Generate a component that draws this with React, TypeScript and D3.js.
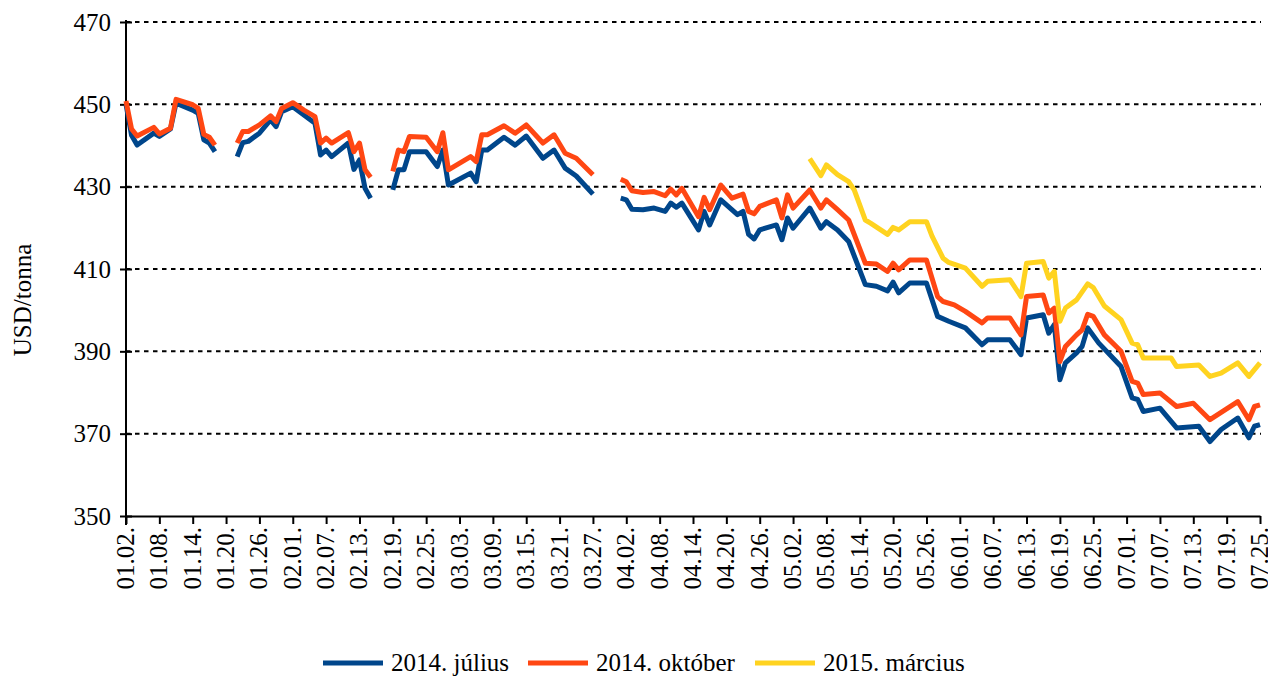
import React, { useEffect, useRef } from "react";
import * as d3 from "d3";

type Pt = [string, number | null];

const seriesNames = ["2014. július", "2014. október", "2015. március"];
const seriesColors = ["#00468b", "#ff4713", "#ffd320"];

const yTicks = [350, 370, 390, 410, 430, 450, 470];
const gridValues = [370, 390, 410, 430, 450, 470];

const tickLabels = [
  "01.02.", "01.08.", "01.14.", "01.20.", "01.26.", "02.01.", "02.07.", "02.13.", "02.19.",
  "02.25.", "03.03.", "03.09.", "03.15.", "03.21.", "03.27.", "04.02.", "04.08.", "04.14.",
  "04.20.", "04.26.", "05.02.", "05.08.", "05.14.", "05.20.", "05.26.", "06.01.", "06.07.",
  "06.13.", "06.19.", "06.25.", "07.01.", "07.07.", "07.13.", "07.19.", "07.25.",
];

const julius: Pt[] = [
  ["01.02", 450], ["01.03", 442.5], ["01.04", 440.1], ["01.07", 443], ["01.08", 442.2],
  ["01.10", 444], ["01.11", 450.3], ["01.14", 448.6], ["01.15", 447.8], ["01.16", 441.4],
  ["01.17", 440.6], ["01.18", 438.5], ["01.20", null],
  ["01.22", 437.3], ["01.23", 440.7], ["01.24", 441], ["01.26", 443], ["01.28", 446.2],
  ["01.29", 444.6], ["01.30", 448.2], ["02.01", 449.4], ["02.03", 447.4], ["02.05", 445.4],
  ["02.06", 437.7], ["02.07", 438.9], ["02.08", 437.3], ["02.11", 440.6], ["02.12", 434.2],
  ["02.13", 436.5], ["02.14", 429.6], ["02.15", 427.2], ["02.17", null],
  ["02.19", 429.2], ["02.20", 434.1], ["02.21", 434.1], ["02.22", 438.5], ["02.25", 438.5],
  ["02.27", 434.9], ["02.28", 438.9], ["03.01", 430.4], ["03.05", 433.3], ["03.06", 431.2],
  ["03.07", 438.9], ["03.08", 438.9], ["03.11", 442], ["03.13", 440.1], ["03.15", 442.3],
  ["03.18", 436.9], ["03.20", 438.9], ["03.22", 434.5], ["03.24", 432.6], ["03.27", 428.2],
  ["03.31", null],
  ["04.01", 427.2], ["04.02", 426.8], ["04.03", 424.5], ["04.05", 424.4], ["04.07", 424.8],
  ["04.09", 424], ["04.10", 426], ["04.11", 425], ["04.12", 426], ["04.15", 419.5],
  ["04.16", 424], ["04.17", 420.7], ["04.19", 426.8], ["04.22", 423.2], ["04.23", 424],
  ["04.24", 418.4], ["04.25", 417.3], ["04.26", 419.5], ["04.29", 420.7], ["04.30", 417.1],
  ["05.01", 422.4], ["05.02", 419.9], ["05.05", 424.8], ["05.07", 419.9], ["05.08", 421.5],
  ["05.10", 419.5], ["05.12", 416.7], ["05.15", 406.2], ["05.17", 405.8], ["05.19", 404.7],
  ["05.20", 406.8], ["05.21", 404.2], ["05.23", 406.6], ["05.26", 406.6], ["05.28", 398.5],
  ["05.30", 397.3], ["06.02", 395.7], ["06.05", 391.6], ["06.06", 392.8], ["06.10", 392.8],
  ["06.12", 389.2], ["06.13", 398.1], ["06.16", 398.9], ["06.17", 394.4], ["06.18", 396.5],
  ["06.19", 383.1], ["06.20", 387.2], ["06.22", 389.6], ["06.23", 391.2], ["06.24", 395.7],
  ["06.26", 392], ["06.30", 386.3], ["07.02", 378.7], ["07.03", 378.3], ["07.04", 375.4],
  ["07.07", 376.2], ["07.10", 371.4], ["07.14", 371.8], ["07.16", 368.1], ["07.18", 371],
  ["07.21", 373.8], ["07.23", 369], ["07.24", 371.8], ["07.25", 372.2],
];

const oktober: Pt[] = [
  ["01.02", 450.8], ["01.03", 444], ["01.04", 442.3], ["01.07", 444.4], ["01.08", 442.8],
  ["01.10", 444.2], ["01.11", 451.2], ["01.14", 449.9], ["01.15", 449], ["01.16", 442.7],
  ["01.17", 442], ["01.18", 440.1], ["01.20", null],
  ["01.22", 440.6], ["01.23", 443.4], ["01.24", 443.4], ["01.26", 445], ["01.28", 447.2],
  ["01.29", 445.8], ["01.30", 449], ["02.01", 450.4], ["02.03", 448.6], ["02.05", 447],
  ["02.06", 440.6], ["02.07", 441.8], ["02.08", 440.6], ["02.11", 443.1], ["02.12", 438.5],
  ["02.13", 440.6], ["02.14", 434.1], ["02.15", 432.3], ["02.17", null],
  ["02.19", 433.7], ["02.20", 438.9], ["02.21", 438.5], ["02.22", 442.2], ["02.25", 442],
  ["02.27", 438.5], ["02.28", 443.1], ["03.01", 434.1], ["03.05", 437.3], ["03.06", 436.1],
  ["03.07", 442.6], ["03.08", 442.6], ["03.11", 444.8], ["03.13", 443], ["03.15", 445],
  ["03.18", 440.6], ["03.20", 442.6], ["03.22", 438.1], ["03.24", 436.9], ["03.27", 432.9],
  ["03.31", null],
  ["04.01", 431.8], ["04.02", 431.2], ["04.03", 429], ["04.05", 428.6], ["04.07", 428.8],
  ["04.09", 427.8], ["04.10", 429.4], ["04.11", 428], ["04.12", 429.6], ["04.15", 422.7],
  ["04.16", 427.4], ["04.17", 424.4], ["04.19", 430.4], ["04.21", 427.2], ["04.23", 428.2],
  ["04.24", 424], ["04.25", 423.4], ["04.26", 425.2], ["04.29", 426.8], ["04.30", 422.4],
  ["05.01", 428], ["05.02", 424.8], ["05.05", 429.2], ["05.07", 424.8], ["05.08", 426.8],
  ["05.10", 424.4], ["05.12", 421.9], ["05.15", 411.4], ["05.17", 411.2], ["05.19", 409.4],
  ["05.20", 411.4], ["05.21", 409.8], ["05.23", 412.2], ["05.26", 412.2], ["05.28", 403.3],
  ["05.29", 402.1], ["05.31", 401.3], ["06.02", 399.7], ["06.05", 396.9], ["06.06", 398.1],
  ["06.10", 398.1], ["06.12", 394], ["06.13", 403.3], ["06.16", 403.7], ["06.17", 399.3],
  ["06.18", 400.5], ["06.19", 387.5], ["06.20", 391.2], ["06.22", 394], ["06.23", 395.2],
  ["06.24", 399], ["06.25", 398.5], ["06.27", 394], ["06.30", 390], ["07.02", 382.7],
  ["07.03", 382.3], ["07.04", 379.5], ["07.07", 379.9], ["07.10", 376.6], ["07.13", 377.4],
  ["07.16", 373.4], ["07.21", 377.8], ["07.23", 373.4], ["07.24", 376.6], ["07.25", 377],
];

const marcius: Pt[] = [
  ["05.05", 436.8], ["05.07", 432.7], ["05.08", 435.3], ["05.10", 432.9], ["05.12", 431.2],
  ["05.13", 429.2], ["05.15", 421.9], ["05.16", 421.1], ["05.19", 418.4], ["05.20", 420.1],
  ["05.21", 419.5], ["05.23", 421.5], ["05.26", 421.5], ["05.27", 418], ["05.29", 412.6],
  ["05.30", 411.6], ["06.02", 410.2], ["06.05", 405.8], ["06.06", 407], ["06.10", 407.4],
  ["06.12", 403.3], ["06.13", 411.4], ["06.16", 411.8], ["06.17", 407.8], ["06.18", 409.4],
  ["06.19", 397.3], ["06.20", 400.5], ["06.22", 402.5], ["06.24", 406.4], ["06.25", 405.5],
  ["06.27", 401], ["06.30", 397.7], ["07.02", 392], ["07.03", 391.6], ["07.04", 388.4],
  ["07.09", 388.4], ["07.10", 386.3], ["07.14", 386.7], ["07.16", 383.9], ["07.18", 384.7],
  ["07.21", 387.2], ["07.23", 383.9], ["07.25", 387.2],
];

const W = 1268;
const H = 678;
const FONT = "'Liberation Serif', 'Times New Roman', serif";

const App = () => {
  const svgRef = useRef<SVGSVGElement>(null);

  useEffect(() => {
    const svg = d3.select(svgRef.current);
    svg.selectAll("*").remove();

    const parse = d3.timeParse("%Y.%m.%d");
    const toDate = (s: string) => parse("2014." + s.replace(/\.$/, "")) as Date;

    const x = d3.scaleTime().domain([toDate("01.02"), toDate("07.25")]).range([126, 1260]);
    const y = d3.scaleLinear().domain([350, 470]).range([516, 22]);

    // dotted grid
    svg.append("g")
      .selectAll("line")
      .data(gridValues)
      .join("line")
      .attr("x1", x.range()[0])
      .attr("x2", x.range()[1] + 1)
      .attr("y1", d => y(d))
      .attr("y2", d => y(d))
      .attr("stroke", "#000")
      .attr("stroke-width", 2)
      .attr("stroke-dasharray", "4.5,4.5");

    // y axis
    const gy = svg.append("g")
      .attr("transform", `translate(${x.range()[0]},0)`)
      .call(d3.axisLeft(y).tickValues(yTicks).tickSize(6).tickSizeOuter(0).tickFormat(d3.format("d")));
    gy.select(".domain").remove();
    gy.selectAll(".tick line").attr("x1", -6).attr("x2", 6).attr("stroke-width", 2);
    gy.selectAll(".tick text")
      .attr("x", -15)
      .attr("font-family", FONT)
      .attr("font-size", 25)
      .attr("fill", "#000");
    gy.append("line")
      .attr("x1", 0).attr("x2", 0)
      .attr("y1", y(470) - 2).attr("y2", y(350) + 9)
      .attr("stroke", "#000").attr("stroke-width", 2);

    // x axis
    const tickDates = tickLabels.map(toDate);
    const gx = svg.append("g")
      .attr("transform", `translate(0,${y(350)})`)
      .call(d3.axisBottom(x).tickValues(tickDates).tickSize(8).tickSizeOuter(0)
        .tickFormat((_, i) => tickLabels[i]));
    gx.select(".domain").attr("stroke-width", 2);
    gx.selectAll(".tick line").attr("stroke-width", 2);
    gx.selectAll(".tick text")
      .attr("transform", "rotate(-90)")
      .attr("text-anchor", "end")
      .attr("x", -11)
      .attr("y", 0)
      .attr("dy", "0.3em")
      .attr("font-family", FONT)
      .attr("font-size", 25)
      .attr("fill", "#000");

    // y axis title
    svg.append("text")
      .attr("transform", `translate(31,${(y(350) + y(470)) / 2 + 31}) rotate(-90)`)
      .attr("text-anchor", "middle")
      .attr("font-family", FONT)
      .attr("font-size", 25)
      .text("USD/tonna");

    // lines
    const line = d3.line<Pt>()
      .defined(d => d[1] !== null)
      .x(d => x(toDate(d[0])))
      .y(d => y(d[1] as number));

    [julius, oktober, marcius].forEach((data, i) => {
      svg.append("path")
        .datum(data)
        .attr("fill", "none")
        .attr("stroke", seriesColors[i])
        .attr("stroke-width", 5)
        .attr("stroke-linejoin", "round")
        .attr("d", line);
    });

    // legend
    const legendX = [323, 528, 755];
    const lg = svg.append("g").selectAll("g").data(seriesNames).join("g")
      .attr("transform", (_, i) => `translate(${legendX[i]},663)`);
    lg.append("line")
      .attr("x1", 0).attr("x2", 60)
      .attr("stroke", (_, i) => seriesColors[i])
      .attr("stroke-width", 5);
    lg.append("text")
      .attr("x", 68)
      .attr("y", 8)
      .attr("font-family", FONT)
      .attr("font-size", 25)
      .text(d => d);
  }, []);

  return (
    <svg
      ref={svgRef}
      width={W}
      height={H}
      style={{ position: "absolute", left: 0, top: 0, background: "#fff" }}
    />
  );
};

export default App;
